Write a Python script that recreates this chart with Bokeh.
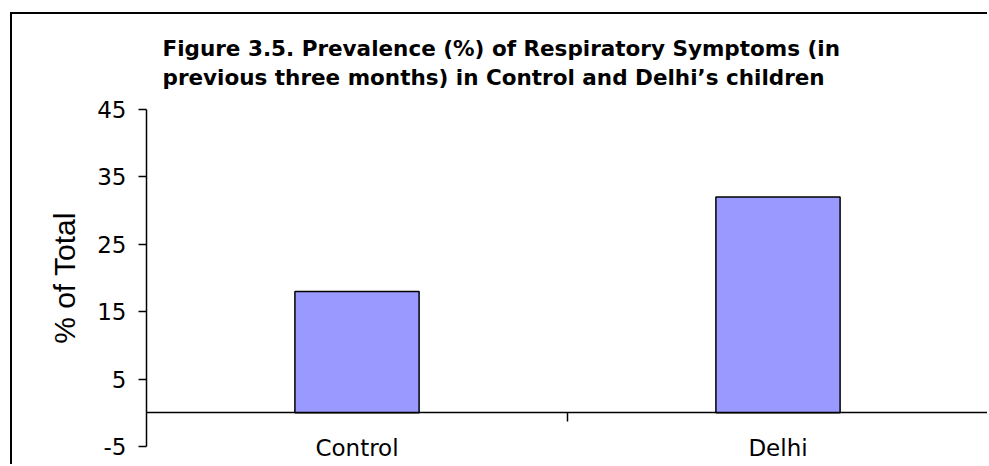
from bokeh.plotting import figure
from bokeh.models import LinearAxis, FixedTicker, Range1d
from bokeh.embed import file_html
from bokeh.resources import INLINE

categories = ["Control", "Delhi"]
values = [18, 32]
y_ticks = [-5, 5, 15, 25, 35, 45]
title_lines = [
    "Figure 3.5. Prevalence (%) of Respiratory Symptoms (in",
    "previous  three months) in Control and Delhi\u2019s children",
]
y_label = "% of Total"

xs = [i + 0.5 for i in range(len(categories))]
bounds = [i + 1 for i in range(len(categories))]

HFONT = "DejaVu Sans"
LFONT = "Liberation Sans"

p = figure(
    width=977, height=452,
    x_range=Range1d(0, len(categories)), y_range=Range1d(y_ticks[0], y_ticks[-1]),
    output_backend="svg", toolbar_location=None,
    x_axis_location=None, y_axis_location="left",
    min_border_left=134, min_border_right=1, min_border_top=95, min_border_bottom=20,
)
p.styles = {
    "margin-left": "10px", "margin-top": "12px",
    "border-left": "2px solid black", "border-top": "2px solid black",
}
p.xgrid.visible = False
p.ygrid.visible = False
p.outline_line_color = None
p.background_fill_color = "white"
p.border_fill_color = "white"

# title
p.title.text = "\n".join(title_lines)
p.title.text_font = HFONT
p.title.text_font_style = "bold"
p.title.text_font_size = "21.5px"
p.title.text_line_height = 1.17
p.title.align = "left"
p.title.offset = 16
p.title.standoff = 39
p.title.text_color = "black"

# y axis
ya = p.yaxis[0]
ya.ticker = FixedTicker(ticks=y_ticks)
ya.major_label_overrides = {t: str(t) for t in y_ticks}
ya.axis_label = y_label
ya.axis_label_text_font = LFONT
ya.axis_label_text_font_style = "normal"
ya.axis_label_text_font_size = "30px"
ya.axis_label_standoff = 13
ya.major_label_text_font = HFONT
ya.major_label_text_font_size = "23px"
ya.major_label_standoff = 12
ya.major_tick_in = 0
ya.major_tick_out = 8
ya.minor_tick_line_color = None
ya.axis_line_width = 1.5
ya.major_tick_line_width = 1.5
ya.axis_line_color = "black"
ya.major_tick_line_color = "black"
ya.major_label_text_color = "black"
ya.axis_label_text_color = "black"

# bars
p.vbar(x=xs, top=values, bottom=0, width=0.295,
       fill_color="#9999FF", line_color="black", line_width=1.5)

# category axis line at zero with boundary ticks
ax1 = LinearAxis(fixed_location=0, ticker=FixedTicker(ticks=bounds),
                 major_tick_in=0, major_tick_out=9, major_tick_line_width=1.5,
                 axis_line_width=1.5, axis_line_color="black", major_tick_line_color="black",
                 major_label_text_color=None, minor_tick_line_color=None)
p.add_layout(ax1, "below")

# category labels
ax2 = LinearAxis(ticker=FixedTicker(ticks=xs),
                 major_label_overrides={x: c for x, c in zip(xs, categories)},
                 major_tick_line_color=None, minor_tick_line_color=None,
                 axis_line_color=None, major_tick_in=0, major_tick_out=0,
                 major_label_standoff=-12, major_label_text_font=HFONT,
                 major_label_text_font_size="23px", major_label_text_color="black")
p.add_layout(ax2, "below")

open("out.html", "w").write(file_html(p, INLINE))
